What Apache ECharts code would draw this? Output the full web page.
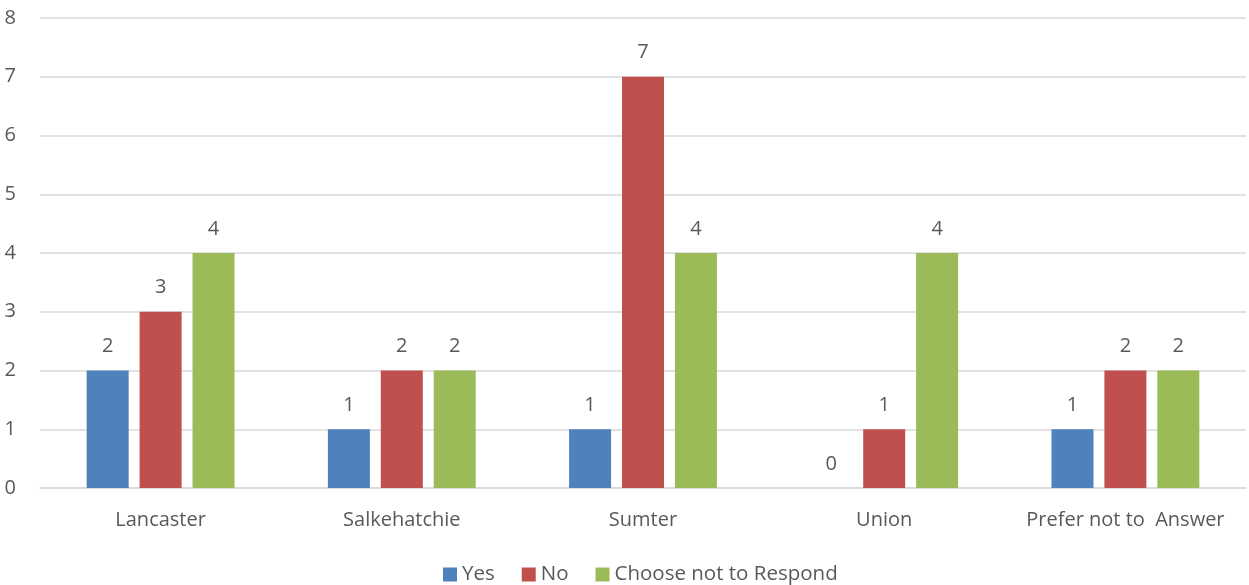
<!DOCTYPE html>
<html>
<head>
<meta charset="utf-8">
<script src="https://cdn.jsdelivr.net/npm/echarts@6/dist/echarts.min.js"></script>
<style>html,body{margin:0;padding:0;background:#fff}#c{width:1249px;height:585px}</style>
</head>
<body>
<div id="c"></div>
<script>
var categories = ['Lancaster', 'Salkehatchie', 'Sumter', 'Union', 'Prefer not to  Answer'];
var yesValues = [2, 1, 1, 0, 1];
var noValues = [3, 2, 7, 1, 2];
var chooseValues = [4, 2, 4, 4, 2];
var yTicks = [0, 1, 2, 3, 4, 5, 6, 7, 8];

var font = "'Open Sans', 'Liberation Sans', sans-serif";
var txt = '#595959';
function mk(name, data, color) {
  return {
    name: name, type: 'bar', data: data, barWidth: 42, barGap: '26%',
    itemStyle: { color: color },
    label: { show: true, position: 'top', distance: 14, color: txt, fontSize: 20, fontFamily: font },
    emphasis: { disabled: true }
  };
}
var chart = echarts.init(document.getElementById('c'));
chart.setOption({
  animation: false,
  textStyle: { fontFamily: font },
  grid: { left: 40, right: 3, top: 18, bottom: 97, outerBoundsMode: 'none', containLabel: false },
  legend: {
    top: 559, left: 438, itemWidth: 14, itemHeight: 14, itemGap: 27,
    icon: 'rect',
    textStyle: { color: txt, fontSize: 20.5, fontFamily: font },
    data: ['Yes', 'No', 'Choose not to Respond']
  },
  xAxis: {
    type: 'category', data: categories,
    axisLine: { lineStyle: { color: '#d9d9d9', width: 1.5 } },
    axisTick: { show: false },
    axisLabel: { color: txt, fontSize: 20, fontFamily: font, margin: 22, interval: 0 }
  },
  yAxis: {
    type: 'value', min: yTicks[0], max: yTicks[yTicks.length - 1], interval: 1,
    axisLine: { show: false }, axisTick: { show: false },
    splitLine: { lineStyle: { color: '#d9d9d9', width: 1.5 } },
    axisLabel: { color: txt, fontSize: 20, fontFamily: font, margin: 24 }
  },
  series: [
    mk('Yes', yesValues, '#4f81bd'),
    mk('No', noValues, '#c0504d'),
    mk('Choose not to Respond', chooseValues, '#9bbb59')
  ]
});
</script>
</body>
</html>
